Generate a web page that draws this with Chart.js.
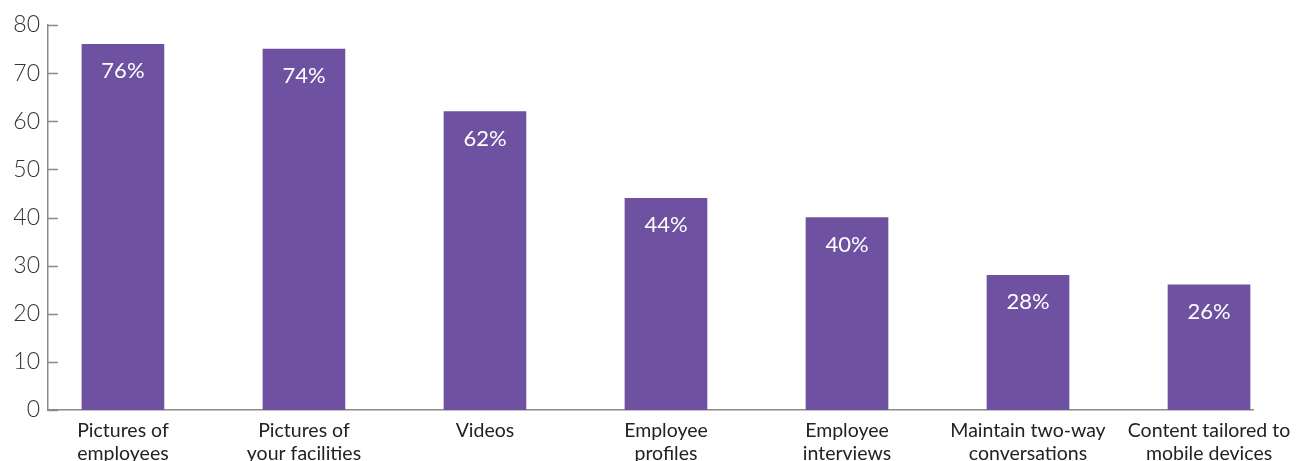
<!DOCTYPE html>
<html>
<head>
<meta charset="utf-8">
<script src="https://cdn.jsdelivr.net/npm/chart.js@4"></script>
<style>
  body { margin: 0; background: #fff; }
  #wrap { width: 1309px; height: 461px; }
</style>
</head>
<body>
<div id="wrap"><canvas id="bar-chart" width="1309" height="461"></canvas></div>
<script>
// Chart data
const categories = [
  ["Pictures of", "employees"],
  ["Pictures of", "your facilities"],
  ["Videos"],
  ["Employee", "profiles"],
  ["Employee", "interviews"],
  ["Maintain two-way", "conversations"],
  ["Content tailored to", "mobile devices"]
];
const values = [76, 75, 62, 44, 40, 28, 26];
const valueLabels = ["76%", "74%", "62%", "44%", "40%", "28%", "26%"];
const yTicks = [0, 10, 20, 30, 40, 50, 60, 70, 80];

const axisColor = "#8a8a8a";

// Bar value labels inside bars + short inward ticks on y axis
const extrasPlugin = {
  id: "extras",
  afterDatasetsDraw(chart) {
    const ctx = chart.ctx;
    const meta = chart.getDatasetMeta(0);
    ctx.save();
    ctx.fillStyle = "#ffffff";
    ctx.font = "22px Lato";
    ctx.textAlign = "center";
    ctx.textBaseline = "middle";
    meta.data.forEach((bar, i) => {
      ctx.fillText(valueLabels[i], bar.x, bar.y + 27);
    });

    const y = chart.scales.y;
    ctx.strokeStyle = axisColor;
    ctx.lineWidth = 1.5;
    yTicks.forEach((t) => {
      const py = Math.round(y.getPixelForValue(t)) + 0.5;
      ctx.beginPath();
      ctx.moveTo(y.right, py);
      ctx.lineTo(y.right + 10, py);
      ctx.stroke();
    });
    ctx.restore();
  }
};

const ctx = document.getElementById("bar-chart").getContext("2d");
new Chart(ctx, {
  type: "bar",
  data: {
    datasets: [
      {
        data: values.map((v, i) => ({ x: i, y: v })),
        backgroundColor: "#6f51a1",
        barThickness: 82
      }
    ]
  },
  options: {
    responsive: false,
    animation: false,
    layout: { padding: { top: 25, right: 56, left: 0, bottom: 0 } },
    plugins: {
      legend: { display: false },
      tooltip: { enabled: false }
    },
    scales: {
      x: {
        type: "linear",
        offset: false,
        min: -0.414,
        max: 6.243,
        grid: { display: false, offset: false },
        border: { display: true, color: axisColor, width: 1.5 },
        afterBuildTicks: (s) => {
          s.ticks = categories.map((_, i) => ({ value: i }));
        },
        afterFit: (s) => { s.height = 51; },
        ticks: {
          autoSkip: false,
          maxRotation: 0,
          padding: 2,
          color: "#222",
          font: { family: "Lato", size: 19.5, lineHeight: 1.15 },
          callback: (v) => categories[v]
        }
      },
      y: {
        min: 0,
        max: 80,
        grid: { display: false, drawTicks: false },
        border: { display: true, color: axisColor, width: 1.5 },
        afterFit: (s) => { s.width = 48; },
        ticks: {
          stepSize: 10,
          padding: 8,
          color: "#333",
          font: { family: "Lato", size: 23, weight: "300" }
        }
      }
    }
  },
  plugins: [extrasPlugin]
});
</script>
</body>
</html>
